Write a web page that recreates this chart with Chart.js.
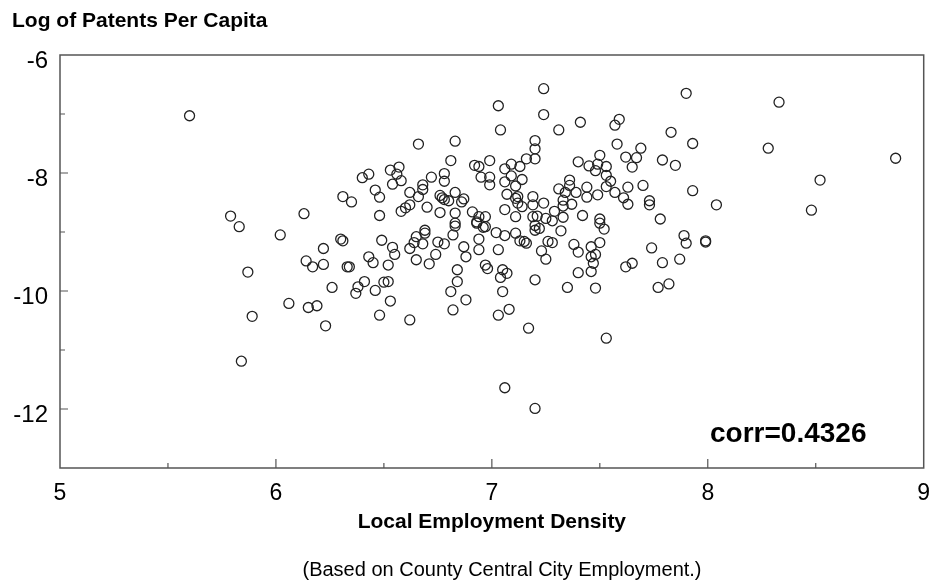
<!DOCTYPE html>
<html>
<head>
<meta charset="utf-8">
<script src="https://cdn.jsdelivr.net/npm/chart.js@4.4.0/dist/chart.umd.min.js"></script>
<style>
  html, body { margin: 0; padding: 0; background: #fff; }
  #wrap { width: 930px; height: 585px; }
</style>
</head>
<body>
<div id="wrap"><canvas id="scatterChart" width="930" height="585"></canvas></div>
<script>
// log employment density (x) and log patents per capita (y)
var densityX = [
    5.60, 5.79, 5.83, 6.02, 6.13, 6.31, 6.35, 6.31, 6.30, 6.22, 6.14, 6.17, 6.22, 6.33, 5.87, 6.26, 6.37, 6.06, 6.15, 6.19, 5.89, 6.23, 5.84,
    7.03, 7.04, 6.66, 6.83, 7.20, 7.20, 6.99, 6.81, 6.92, 6.94, 7.16, 7.09, 7.13, 7.06, 6.43, 6.40, 6.53, 6.57, 6.56, 6.54, 6.58, 6.72,
    6.78, 6.78, 6.95, 6.99, 6.99, 7.06, 7.09, 7.14, 7.11, 6.68, 6.68, 6.62, 6.66, 6.46, 6.48, 6.76, 6.77, 6.78, 6.80, 6.83, 6.87, 6.86,
    7.07, 7.12, 7.11, 7.12, 7.14, 7.19, 6.62, 6.60, 6.58, 6.70, 6.76, 6.83, 6.48, 6.91, 6.94, 6.97, 7.06, 7.11, 7.19, 6.83, 6.93, 6.97, 6.69,
    6.49, 6.65, 6.69, 6.68, 6.64, 6.54, 6.62, 6.55, 6.65, 6.71, 6.74, 6.75, 6.78, 6.82, 6.83, 6.87, 6.88, 6.94, 6.94, 6.96, 6.93, 7.02,
    7.06, 7.03, 7.11, 7.13, 7.16, 7.20, 6.43, 6.45, 6.52, 6.34, 6.41, 6.38, 6.46, 6.50, 6.52, 6.53, 6.48, 6.62, 6.84, 6.84, 6.81, 6.88,
    6.82, 6.97, 6.98, 7.05, 7.07, 7.04, 7.05, 7.03, 7.08, 7.17, 7.20, 7.06, 7.20,
    7.24, 7.90, 7.24, 7.31, 7.41, 7.59, 7.57, 7.83, 7.93, 7.58, 7.69, 7.62, 7.67, 7.65, 7.79, 7.85, 7.50, 7.20, 7.40, 7.45, 7.49, 7.48,
    7.53, 7.53, 7.36, 7.36, 7.55, 7.53, 7.44, 7.31, 7.34, 7.39, 7.44, 7.49, 7.57, 7.63, 7.70, 7.61, 7.63, 7.73, 7.73, 7.93, 8.04, 7.19,
    7.24, 7.33, 7.33, 7.37, 7.42, 7.50, 7.78, 7.29, 7.21, 7.25, 7.28, 7.33, 7.20,
    7.22, 7.32, 7.50, 7.52, 7.15, 7.26, 7.28, 7.23, 7.25, 7.38, 7.40, 7.46, 7.50, 7.48, 7.46, 7.47, 7.46, 7.40, 7.35, 7.48, 7.62, 7.65,
    7.74, 7.79, 7.87, 7.89, 7.90, 7.99, 7.99, 7.77, 7.82, 7.53,
    8.33, 8.28, 8.87, 8.52, 8.48
];
var patentsY = [
    -7.03, -8.73, -8.91, -9.05, -8.69, -8.40, -8.49, -9.15, -9.12, -9.28, -9.49, -9.59, -9.55, -9.59, -9.68, -9.94, -10.04, -10.21, -10.28, -10.25, -10.43, -10.59, -11.19,
    -6.86, -7.27, -7.51, -7.46, -7.45, -7.59, -7.79, -7.79, -7.87, -7.89, -7.76, -7.85, -7.89, -7.93, -8.02, -8.08, -7.95, -7.90, -8.02, -8.19, -8.13, -8.07,
    -8.01, -8.14, -8.07, -8.07, -8.20, -8.15, -8.05, -8.11, -8.22, -8.20, -8.28, -8.33, -8.40, -8.29, -8.41, -8.38, -8.42, -8.45, -8.47, -8.33, -8.44, -8.49,
    -8.36, -8.40, -8.43, -8.51, -8.57, -8.40, -8.54, -8.59, -8.65, -8.58, -8.67, -8.68, -8.72, -8.66, -8.74, -8.74, -8.62, -8.74, -8.74, -8.85, -8.85, -8.91, -8.97,
    -9.14, -9.08, -9.02, -9.20, -9.18, -9.26, -9.28, -9.38, -9.47, -9.54, -9.38, -9.17, -9.20, -9.05, -8.90, -9.25, -9.42, -9.30, -9.12, -8.92, -8.83, -9.01,
    -9.06, -9.30, -9.02, -9.15, -9.19, -8.97, -9.42, -9.52, -9.56, -9.59, -9.84, -9.93, -9.99, -9.85, -9.84, -10.17, -10.41, -10.49, -9.64, -9.84, -10.01, -10.15,
    -10.32, -9.56, -9.62, -9.64, -9.70, -9.77, -10.01, -10.41, -10.31, -10.63, -9.81, -11.64, -11.99,
    -6.57, -6.65, -7.01, -7.27, -7.14, -7.09, -7.19, -7.31, -7.50, -7.51, -7.58, -7.73, -7.74, -7.90, -7.78, -7.87, -7.70, -7.76, -7.81, -7.88, -7.85, -7.96,
    -7.89, -8.04, -8.12, -8.21, -8.14, -8.23, -8.24, -8.27, -8.33, -8.33, -8.41, -8.37, -8.33, -8.24, -8.21, -8.42, -8.53, -8.47, -8.54, -8.30, -8.54, -8.54,
    -8.51, -8.46, -8.56, -8.53, -8.72, -8.78, -8.78, -8.65, -8.73, -8.77, -8.81, -8.75, -8.89,
    -8.94, -8.98, -8.85, -8.95, -9.16, -9.16, -9.18, -9.32, -9.46, -9.21, -9.34, -9.25, -9.18, -9.38, -9.42, -9.53, -9.67, -9.69, -9.94, -9.95, -9.59, -9.53,
    -9.27, -9.52, -9.46, -9.06, -9.19, -9.15, -9.17, -9.94, -9.88, -10.80,
    -6.80, -7.58, -7.75, -8.12, -8.63
];
var xTicks = [5, 6, 7, 8, 9];
var yTicks = [-6, -8, -10, -12];
var corrText = 'corr=0.4326';

var points = densityX.map(function (x, i) { return { x: x, y: patentsY[i] }; });
var fontFam = '"Liberation Sans", Arial, sans-serif';

// box round the plot, with the little inward ticks
var framePlugin = {
    id: 'frame',
    afterDatasetsDraw: function (chart) {
        var ctx = chart.ctx, a = chart.chartArea;
        var xs = chart.scales.x, ys = chart.scales.y;
        ctx.save();
        ctx.strokeStyle = '#555';
        ctx.lineWidth = 1.5;
        ctx.strokeRect(a.left, a.top, a.right - a.left, a.bottom - a.top);
        ctx.lineWidth = 1.2;
        ctx.beginPath();
        for (var v = 5.5; v < 9; v += 0.5) {
            var px = xs.getPixelForValue(v);
            var len = (v % 1 === 0) ? 9 : 5;
            ctx.moveTo(px, a.bottom);
            ctx.lineTo(px, a.bottom - len);
        }
        for (var w = -12; w < -6; w += 1) {
            var py = ys.getPixelForValue(w);
            var l2 = (w % 2 === 0) ? 8 : 5;
            ctx.moveTo(a.left, py);
            ctx.lineTo(a.left + l2, py);
        }
        ctx.stroke();

        ctx.fillStyle = '#000';
        ctx.font = 'bold 21px ' + fontFam;
        ctx.textAlign = 'left';
        ctx.textBaseline = 'alphabetic';
        ctx.fillText('Log of Patents Per Capita', 12, 27);

        ctx.font = 'bold 28px ' + fontFam;
        ctx.fillText(corrText, 710, 442);

        ctx.font = '20px ' + fontFam;
        ctx.textAlign = 'center';
        ctx.textBaseline = 'middle';
        ctx.fillText('(Based on County Central City Employment.)', 502, 570);
        ctx.restore();
    }
};

var ctx = document.getElementById('scatterChart').getContext('2d');
var chart = new Chart(ctx, {
    type: 'scatter',
    data: {
        datasets: [{
            label: 'Counties',
            data: points,
            pointStyle: 'circle',
            pointRadius: 5,
            pointHoverRadius: 5,
            borderColor: '#222',
            backgroundColor: 'rgba(0,0,0,0)',
            borderWidth: 1.3
        }]
    },
    options: {
        responsive: false,
        devicePixelRatio: 1,
        animation: false,
        layout: { padding: { left: 0, right: 5, top: 55, bottom: 0 } },
        plugins: {
            legend: { display: false },
            tooltip: { enabled: false }
        },
        scales: {
            x: {
                type: 'linear',
                min: 5,
                max: 9,
                grid: { display: false },
                border: { display: false },
                afterBuildTicks: function (s) { s.ticks = xTicks.map(function (v) { return { value: v }; }); },
                ticks: { color: '#000', font: { size: 23, family: fontFam }, padding: 4, maxRotation: 0 },
                title: {
                    display: true,
                    text: 'Local Employment Density',
                    color: '#000',
                    font: { size: 21, weight: 'bold', family: fontFam },
                    padding: { top: 0, bottom: 50 }
                },
                afterFit: function (s) { s.height = 117; s.paddingLeft = 0; s.paddingRight = 0; }
            },
            y: {
                type: 'linear',
                min: -13,
                max: -6,
                grid: { display: false },
                border: { display: false },
                afterBuildTicks: function (s) { s.ticks = yTicks.map(function (v) { return { value: v }; }); },
                ticks: { color: '#000', font: { size: 24, family: fontFam }, padding: 4, labelOffset: 6 },
                afterFit: function (s) { s.width = 60; }
            }
        }
    },
    plugins: [framePlugin]
});
</script>
</body>
</html>
